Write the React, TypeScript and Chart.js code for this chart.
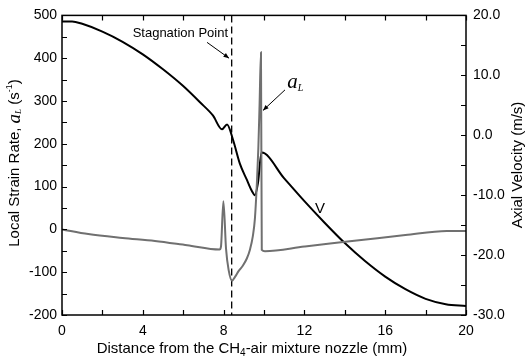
import React, { useEffect, useRef } from "react";
import { Chart, registerables } from "chart.js";

Chart.register(...registerables);

// ---- Data ----
const velocityDistance = [0, 0.5, 1, 2, 3, 4, 5, 6, 6.83, 7.47, 7.92, 8.17, 8.47, 8.8, 9.16, 9.4, 9.55, 9.7, 9.88, 11, 12, 13, 14, 15, 16, 17, 18, 19, 20];
const axialVelocity = [19.0, 19.0, 18.6, 17.3, 15.6, 13.5, 11.0, 8.2, 5.5, 3.3, 1.0, 1.8, -0.8, -4.7, -7.5, -9.3, -10.0, -8.0, -2.9, -7.2, -11.0, -14.6, -18.0, -21.0, -23.6, -25.7, -27.3, -28.2, -28.5];

const strainDistance = [0, 1.3, 3, 4.6, 6.2, 7.8, 7.87, 7.99, 8.12, 8.25, 8.42, 8.55, 8.75, 8.95, 9.15, 9.3, 9.45, 9.55, 9.65, 9.72, 9.78, 9.85, 9.89, 10.05, 12, 13.27, 14.7, 17, 19.05, 20];
const localStrainRate = [0, -11, -20, -27, -37, -47, -40, 66, -45, -95, -120, -112, -97, -85, -68, -48, -15, 25, 110, 190, 290, 414, -48, -51, -40, -33, -25.5, -13, -3.5, -3.5];

const stagnationPoint = 8.4;
const xTickValues = [0, 4, 8, 12, 16, 20];
const leftTickValues = [-200, -100, 0, 100, 200, 300, 400, 500];
const rightTickValues = [-30, -20, -10, 0, 10, 20];

const SANS = "'Liberation Sans', Arial, sans-serif";
const SERIF = "'Liberation Serif', 'Times New Roman', serif";

type Seg = { text: string; font: string; dy?: number };

function drawRich(ctx: CanvasRenderingContext2D, segs: Seg[], cx: number, cy: number, rotate: boolean) {
  ctx.save();
  ctx.translate(cx, cy);
  if (rotate) ctx.rotate(-Math.PI / 2);
  ctx.textBaseline = "middle";
  ctx.textAlign = "left";
  let total = 0;
  for (const s of segs) {
    ctx.font = s.font;
    total += ctx.measureText(s.text).width;
  }
  let x = -total / 2;
  for (const s of segs) {
    ctx.font = s.font;
    ctx.fillText(s.text, x, s.dy || 0);
    x += ctx.measureText(s.text).width;
  }
  ctx.restore();
}

function arrow(ctx: CanvasRenderingContext2D, x1: number, y1: number, x2: number, y2: number) {
  ctx.save();
  ctx.strokeStyle = "#000";
  ctx.lineWidth = 1;
  ctx.beginPath();
  ctx.moveTo(x1, y1);
  ctx.lineTo(x2, y2);
  ctx.stroke();
  const a = Math.atan2(y2 - y1, x2 - x1);
  const h = 6;
  ctx.beginPath();
  ctx.moveTo(x2, y2);
  ctx.lineTo(x2 - h * Math.cos(a - 0.4), y2 - h * Math.sin(a - 0.4));
  ctx.lineTo(x2 - h * Math.cos(a + 0.4), y2 - h * Math.sin(a + 0.4));
  ctx.closePath();
  ctx.fillStyle = "#000";
  ctx.fill();
  ctx.restore();
}

const framePlugin = {
  id: "frame",
  beforeDatasetsDraw(chart: any) {
    const { ctx, chartArea: ca, scales } = chart;
    const x = scales.x;
    ctx.save();
    ctx.strokeStyle = "#000";
    ctx.lineWidth = 1.3;
    ctx.setLineDash([7, 4]);
    const px = x.getPixelForValue(stagnationPoint);
    ctx.beginPath();
    ctx.moveTo(px, ca.top);
    ctx.lineTo(px, ca.bottom);
    ctx.stroke();
    ctx.restore();
  },
  afterDraw(chart: any) {
    const { ctx, chartArea: ca, scales } = chart;
    const x = scales.x, y = scales.y, y1 = scales.y1;
    ctx.save();
    ctx.strokeStyle = "#000";
    ctx.lineWidth = 1.5;
    ctx.strokeRect(ca.left, ca.top, ca.right - ca.left, ca.bottom - ca.top);
    ctx.lineWidth = 1.2;
    const tl = 5;
    ctx.beginPath();
    for (let v = -200; v <= 500; v += 50) {
      const p = Math.round(y.getPixelForValue(v)) + 0.5;
      ctx.moveTo(ca.left, p);
      ctx.lineTo(ca.left + tl, p);
    }
    for (let v = -30; v <= 20; v += 5) {
      const p = Math.round(y1.getPixelForValue(v)) + 0.5;
      ctx.moveTo(ca.right, p);
      ctx.lineTo(ca.right - tl, p);
    }
    for (let v = 0; v <= 20; v += 2) {
      const p = Math.round(x.getPixelForValue(v)) + 0.5;
      ctx.moveTo(p, ca.bottom);
      ctx.lineTo(p, ca.bottom - tl);
      ctx.moveTo(p, ca.top);
      ctx.lineTo(p, ca.top + tl);
    }
    ctx.stroke();

    // annotations
    ctx.fillStyle = "#000";
    ctx.font = `13px ${SANS}`;
    ctx.textAlign = "right";
    ctx.textBaseline = "alphabetic";
    ctx.fillText("Stagnation Point", x.getPixelForValue(8.22), y.getPixelForValue(449));
    arrow(ctx, x.getPixelForValue(7.18), y.getPixelForValue(437), x.getPixelForValue(8.27), y.getPixelForValue(400));

    ctx.textAlign = "left";
    ctx.font = `italic 21px ${SERIF}`;
    const ax = x.getPixelForValue(11.15), ay = y.getPixelForValue(330);
    ctx.fillText("a", ax, ay);
    const aw = ctx.measureText("a").width;
    ctx.font = `italic 10px ${SERIF}`;
    ctx.fillText("L", ax + aw, ay + 3);
    arrow(ctx, x.getPixelForValue(11.04), y.getPixelForValue(326), x.getPixelForValue(9.95), y.getPixelForValue(278));

    ctx.font = `15px ${SANS}`;
    ctx.fillText("V", x.getPixelForValue(12.52), y.getPixelForValue(38));

    // axis titles
    drawRich(ctx, [
      { text: "Local Strain Rate, ", font: `15px ${SANS}` },
      { text: "a", font: `italic 19px ${SERIF}` },
      { text: "L", font: `italic 9px ${SERIF}`, dy: 4 },
      { text: " (s", font: `15px ${SANS}` },
      { text: "-1", font: `9px ${SANS}`, dy: -5 },
      { text: ")", font: `15px ${SANS}` },
    ], 15, 163, true);
    drawRich(ctx, [{ text: "Axial Velocity (m/s)", font: `15px ${SANS}` }], 518, 165, true);
    drawRich(ctx, [
      { text: "Distance from the CH", font: `15px ${SANS}` },
      { text: "4", font: `10px ${SANS}`, dy: 4 },
      { text: "-air mixture nozzle (mm)", font: `15px ${SANS}` },
    ], 252, 349, false);
    ctx.restore();
  },
};

export default function App() {
  const ref = useRef<HTMLCanvasElement | null>(null);
  useEffect(() => {
    if (!ref.current) return;
    Chart.defaults.color = "#000";
    const chart = new Chart(ref.current, {
      type: "line",
      data: {
        datasets: [
          {
            label: "a_L",
            data: strainDistance.map((d, i) => ({ x: d, y: localStrainRate[i] })),
            borderColor: "#707070",
            borderWidth: 2,
            pointRadius: 0,
            cubicInterpolationMode: "monotone",
            yAxisID: "y",
          },
          {
            label: "V",
            data: velocityDistance.map((d, i) => ({ x: d, y: axialVelocity[i] })),
            borderColor: "#000",
            borderWidth: 2,
            pointRadius: 0,
            cubicInterpolationMode: "monotone",
            yAxisID: "y1",
          },
        ],
      },
      options: {
        animation: false,
        responsive: false,
        devicePixelRatio: 1,
        layout: { padding: { top: 15, left: 0, right: 0, bottom: 0 } },
        plugins: { legend: { display: false }, tooltip: { enabled: false } },
        scales: {
          x: {
            type: "linear",
            min: 0,
            max: 20,
            afterBuildTicks: (s: any) => { s.ticks = xTickValues.map((v) => ({ value: v })); },
            afterFit: (s: any) => { s.height = 45; },
            grid: { display: false, drawTicks: false },
            border: { display: false },
            ticks: { font: { size: 14, family: SANS }, padding: 8, color: "#000", maxRotation: 0 },
          },
          y: {
            type: "linear",
            position: "left",
            min: -200,
            max: 500,
            afterBuildTicks: (s: any) => { s.ticks = leftTickValues.map((v) => ({ value: v })); },
            afterFit: (s: any) => { s.width = 62; },
            grid: { display: false, drawTicks: false },
            border: { display: false },
            ticks: { font: { size: 14, family: SANS }, padding: 5, color: "#000" },
          },
          y1: {
            type: "linear",
            position: "right",
            min: -30,
            max: 20,
            afterBuildTicks: (s: any) => { s.ticks = rightTickValues.map((v) => ({ value: v })); },
            afterFit: (s: any) => { s.width = 63; },
            grid: { display: false, drawTicks: false },
            border: { display: false },
            ticks: { font: { size: 14, family: SANS }, padding: 7, color: "#000", callback: (v: any) => Number(v).toFixed(1) },
          },
        },
      },
      plugins: [framePlugin],
    } as any);
    return () => chart.destroy();
  }, []);
  return (
    <div style={{ position: "absolute", left: 0, top: 0, width: 529, height: 360, background: "#fff" }}>
      <canvas ref={ref} width={529} height={360} style={{ display: "block" }} />
    </div>
  );
}
